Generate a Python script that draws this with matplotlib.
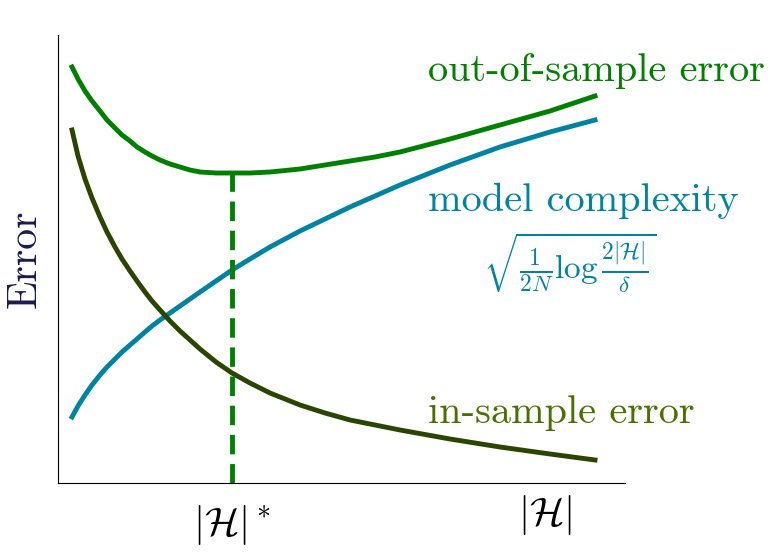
import matplotlib
matplotlib.use('Agg')
import matplotlib.pyplot as plt

plt.rcParams['mathtext.fontset'] = 'cm'
plt.rcParams['font.family'] = 'cmr10'
plt.rcParams['axes.unicode_minus'] = False

# curves (x and heights in picture units)
x = [72, 78, 85, 92, 100, 107, 115, 122, 130, 137, 145, 152, 160, 170, 180, 190, 200, 216, 232,
     250, 270, 300, 325, 350, 375, 400, 450, 500, 550, 595]
in_sample = [353, 327, 304, 285, 266, 251, 236, 224, 212, 202, 191, 182, 173, 162, 152, 143, 134, 121, 110,
             100, 90, 78, 70, 63, 58, 53, 44, 36, 29, 23]
complexity = [66, 77, 88, 98, 108, 116, 124, 131, 138, 144, 151, 157, 163, 170, 177, 184, 191, 202, 213,
              224, 236, 252, 264, 276, 287, 298, 318, 336, 351, 363]
out_sample = [416, 404, 392, 382, 372, 363, 355, 348, 342, 336, 331, 327, 323, 319, 316, 313, 311, 310, 310,
              310, 311, 314, 318, 322, 326, 331, 344, 358, 372, 387]
x_star = 232
y_star = 310

fig = plt.figure(figsize=(7.76, 5.6), dpi=100)
ax = fig.add_axes([58/776, (560-483)/560, (625-58)/776, (483-35)/560])
ax.set_xlim(58, 625)
ax.set_ylim(0, 448)

ax.plot(x, out_sample, color='#008000', lw=3.5)
ax.plot(x, complexity, color='#0083a0', lw=3.5)
ax.plot(x, in_sample, color='#2a4500', lw=3.5)
ax.plot([x_star, x_star], [0, y_star], color='#008000', lw=3.5, ls=(0, (4, 2)))

ax.spines['top'].set_visible(False)
ax.spines['right'].set_visible(False)
ax.set_xticks([])
ax.set_yticks([])

ax.text(428, 412, 'out-of-sample error', color='#008000', fontsize=29, va='center', clip_on=False)
ax.text(428, 282, 'model complexity', color='#0083a0', fontsize=29, va='center', clip_on=False)
ax.text(483, 220, r'$\sqrt{\frac{1}{2N}\log\frac{2|\mathcal{H}|}{\delta}}$', color='#0083a0',
        fontsize=24, va='center')
ax.text(428, 70, 'in-sample error', color='#4a7000', fontsize=29, va='center')

ax.text(x_star, -42, r'$|\mathcal{H}|^*$', fontsize=29, ha='center', va='center')
ax.text(545, -32, r'$|\mathcal{H}|$', fontsize=29, ha='center', va='center')
ax.set_ylabel('Error', fontsize=30, color='#1a1a50', labelpad=10)

fig.savefig('out.png', dpi=100)
